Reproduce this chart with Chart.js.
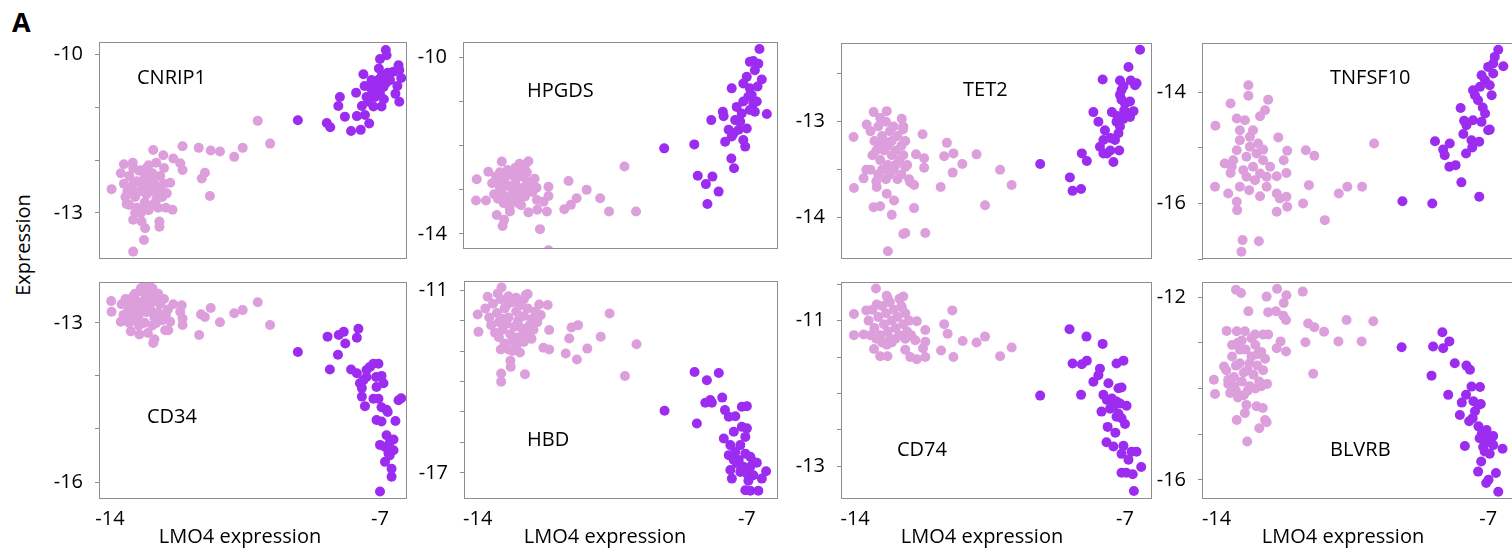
<!DOCTYPE html>
<html>
<head>
<meta charset="utf-8">
<script src="https://cdn.jsdelivr.net/npm/chart.js@4.4.1/dist/chart.umd.min.js"></script>
<style>
  html, body { margin: 0; padding: 0; background: #fff; width: 1512px; height: 548px; overflow: hidden; position: relative; }
  canvas { position: absolute; }
  .panel-letter { position: absolute; left: 12px; top: 3px; font: bold 27px "Open Sans", sans-serif; color: #000; }
  .y-title { position: absolute; left: 22px; top: 245px; font: 20px "Open Sans", sans-serif; color: #000;
             transform: translate(-50%, -50%) rotate(-90deg); white-space: nowrap; }
</style>
</head>
<body>
<div class="panel-letter">A</div>
<div class="y-title">Expression</div>
<script>
// gene names, one per panel (top row then bottom row)
const genes = ['CNRIP1', 'HPGDS', 'TET2', 'TNFSF10', 'CD34', 'HBD', 'CD74', 'BLVRB'];
const xTitle = 'LMO4 expression';
const xTicks = [-14, -7];

// axis ranges and ticks
const xRanges = [[-14.26, -6.30], [-14.33, -6.19], [-14.34, -6.30], [-14.35, -6.36]];
const yRanges = [[-13.87, -9.77], [-14.34, -9.65], [-14.43, -12.18], [-17.0, -13.11],
                 [-16.32, -12.23], [-17.86, -10.70], [-13.45, -10.47], [-16.42, -11.67]];
const yTicks = [[-10, -11, -12, -13], [-10, -11, -12, -13, -14], [-12.5, -13, -13.5, -14], [-14, -15, -16, -17],
                [-13, -14, -15, -16], [-11, -12, -13, -14, -15, -16, -17], [-10.5, -11, -11.5, -12, -12.5, -13], [-12, -13, -14, -15, -16]];
const yLabels = [[-10, -13], [-10, -14], [-13, -14], [-14, -16],
                 [-13, -16], [-11, -17], [-11, -13], [-12, -16]];

// [LMO4, gene] pairs: low-LMO4 cells and high-LMO4 cells
const cnrip1Low = [[-13.96,-12.55],[-13.4,-13.73],[-13.12,-13.51],[-13.4,-13.13],[-13.18,-13.16],[-13.09,-13.29],[-12.72,-13.16],[-12.72,-13.26],
  [-12.38,-12.94],[-12.12,-11.74],[-11.7,-11.77],[-11.39,-11.82],[-11.15,-11.84],[-10.78,-11.94],[-10.56,-11.77],[-10.17,-11.26],[-9.85,-11.69],
  [-11.62,-12.35],[-11.54,-12.24],[-11.41,-12.68],[-12.12,-12.19],[-12.18,-12.06],[-12.44,-12.43],[-12.88,-11.81],[-12.62,-11.91],[-12.36,-11.97],
  [-13.64,-12.08],[-13.41,-12.05],[-13.72,-12.25],[-13.64,-12.45],[-13.57,-12.83],[-12.53,-12.63],
  [-13.5,-12.3],[-13.4,-12.15],[-13.3,-12.4],[-13.2,-12.2],[-13.1,-12.35],[-13.0,-12.1],[-12.9,-12.25],[-12.8,-12.05],[-12.7,-12.3],[-12.6,-12.15],
  [-13.45,-12.55],[-13.35,-12.7],[-13.25,-12.6],[-13.15,-12.5],[-13.05,-12.65],[-12.95,-12.45],[-12.85,-12.6],[-12.75,-12.5],[-12.65,-12.7],
  [-13.5,-12.85],[-13.3,-12.9],[-13.1,-12.8],[-12.9,-12.85],[-12.75,-12.9],[-13.2,-13.0],[-13.0,-12.95],[-12.6,-12.45],[-12.55,-12.9],
  [-13.55,-12.6],[-13.4,-12.45],[-13.0,-12.3],[-12.8,-12.75],[-13.25,-12.2],[-12.95,-12.55],[-13.15,-12.95],[-12.85,-12.35],[-13.6,-12.7],
  [-12.7,-12.6],[-13.35,-13.0],[-13.05,-12.15]];
const cnrip1High = [[-9.13,-11.25],[-8.38,-11.3],[-8.29,-11.38],[-8.04,-10.81],[-8.08,-10.98],[-7.91,-11.18],[-7.75,-11.45],[-7.5,-11.43],
  [-7.62,-10.73],[-7.6,-11.17],[-7.47,-10.98],[-7.28,-11.31],[-7.39,-11.15],[-7.43,-10.38],[-7.03,-10.27],[-7.03,-10.48],[-7.0,-10.09],
  [-6.85,-9.92],[-6.83,-10.02],[-6.96,-10.99],[-7.17,-10.99],[-7.26,-10.62],[-7.13,-10.81],[-6.91,-10.62],[-6.74,-10.49],[-6.65,-10.33],
  [-6.52,-10.21],[-7.35,-10.81],[-7.22,-10.49],[-7.09,-10.68],[-6.5,-10.3],[-6.45,-10.45],[-6.55,-10.6],[-6.6,-10.75],[-6.5,-10.9],
  [-7.1,-10.55],[-6.95,-10.4],[-6.85,-10.55],[-7.2,-10.7],[-7.0,-10.75],[-6.8,-10.35],[-7.3,-10.9],[-6.9,-10.85],[-7.4,-10.6]];

const hpgdsLow = [[-14.0,-12.76],[-14.02,-13.24],[-13.76,-13.24],[-13.7,-12.59],[-13.48,-13.57],[-13.29,-13.68],[-13.33,-13.82],[-13.35,-12.36],
  [-12.89,-12.41],[-12.66,-12.35],[-12.75,-12.44],[-12.14,-12.93],[-12.14,-13.14],[-12.18,-13.49],[-12.36,-13.89],[-12.14,-14.37],[-12.66,-13.51],
  [-12.43,-13.45],[-11.62,-12.8],[-11.73,-13.44],[-11.56,-13.34],[-11.41,-13.19],[-11.15,-13.0],[-10.8,-13.19],[-10.57,-13.49],[-10.17,-12.47],
  [-9.87,-13.49],[-12.44,-13.23],[-12.27,-13.27],[-13.14,-13.49],[-12.92,-13.3],
  [-13.6,-12.85],[-13.5,-12.7],[-13.4,-12.95],[-13.3,-12.75],[-13.2,-12.9],[-13.1,-12.65],[-13.0,-12.85],[-12.9,-12.7],[-12.8,-12.95],[-12.7,-12.8],
  [-12.6,-12.9],[-12.5,-12.75],[-13.55,-13.1],[-13.45,-13.2],[-13.35,-13.05],[-13.25,-13.15],[-13.15,-13.3],[-13.05,-13.1],[-12.95,-13.2],
  [-12.85,-13.05],[-12.75,-13.15],[-12.65,-13.0],[-13.4,-12.6],[-13.2,-12.55],[-13.0,-12.5],[-12.8,-12.6],[-13.3,-13.3],[-13.1,-12.95],
  [-12.9,-13.0],[-12.55,-13.05],[-13.45,-12.85],[-12.7,-12.6],[-13.25,-12.7],[-13.0,-12.75],[-12.45,-12.95],[-13.15,-13.4],[-12.85,-13.35]];
const hpgdsHigh = [[-9.14,-12.06],[-8.36,-11.97],[-8.27,-12.68],[-8.06,-12.87],[-7.89,-12.7],[-7.73,-13.04],[-8.02,-13.32],[-7.92,-11.42],
  [-7.62,-11.23],[-7.6,-11.33],[-7.4,-12.29],[-7.33,-12.51],[-7.39,-10.7],[-7.56,-11.91],[-7.47,-11.64],[-7.3,-11.42],[-7.21,-11.64],
  [-7.09,-11.87],[-7.04,-12.02],[-7.0,-11.61],[-7.13,-11.27],[-7.09,-11.0],[-6.96,-10.89],[-7.09,-10.59],[-7.0,-10.44],[-6.92,-10.7],
  [-6.83,-11.04],[-6.74,-11.0],[-6.72,-10.66],[-6.61,-10.5],[-6.7,-10.14],[-6.92,-10.1],[-6.83,-10.08],[-6.79,-10.29],[-6.67,-9.81],
  [-6.48,-11.28],[-6.87,-10.85],[-6.79,-11.23],[-7.34,-11.72],[-7.17,-11.45],[-7.39,-11.79],[-7.26,-11.12],[-6.92,-11.19]];

const tet2Low = [[-14.04,-13.16],[-14.03,-13.69],[-13.78,-13.59],[-13.71,-13.5],[-13.7,-13.03],[-13.52,-12.9],[-13.35,-12.96],[-13.18,-12.89],
  [-12.79,-12.97],[-12.76,-13.08],[-12.25,-13.13],[-12.42,-13.34],[-12.21,-13.38],[-12.21,-13.48],[-12.47,-13.66],[-12.47,-13.9],[-12.18,-14.16],
  [-12.75,-14.17],[-12.7,-14.16],[-13.15,-14.35],[-13.05,-13.97],[-12.99,-13.82],[-13.18,-13.75],[-13.52,-13.89],[-13.35,-13.88],[-13.44,-13.68],
  [-11.78,-13.68],[-11.62,-13.22],[-11.69,-13.36],[-11.45,-13.33],[-11.47,-13.53],[-11.22,-13.44],[-10.85,-13.34],[-10.24,-13.5],[-9.94,-13.66],
  [-10.63,-13.87],[-12.57,-13.63],[-12.7,-13.47],
  [-13.6,-13.1],[-13.5,-13.2],[-13.4,-13.05],[-13.3,-13.15],[-13.2,-13.0],[-13.1,-13.1],[-13.0,-13.05],[-12.9,-13.15],[-12.8,-13.25],[-12.7,-13.2],
  [-13.55,-13.35],[-13.45,-13.3],[-13.35,-13.4],[-13.25,-13.3],[-13.15,-13.45],[-13.05,-13.35],[-12.95,-13.3],[-12.85,-13.4],[-12.75,-13.35],
  [-12.65,-13.45],[-13.4,-13.55],[-13.3,-13.5],[-13.2,-13.6],[-13.1,-13.55],[-13.0,-13.5],[-12.9,-13.6],[-12.8,-13.55],[-12.6,-13.6],
  [-13.6,-13.5],[-13.45,-13.62],[-13.25,-13.2],[-13.15,-13.25],[-12.95,-13.45],[-13.35,-13.25],[-12.75,-13.05],[-13.05,-13.2]];
const tet2High = [[-9.2,-13.44],[-8.43,-13.58],[-8.36,-13.72],[-8.14,-13.7],[-8.12,-13.33],[-7.99,-13.41],[-7.82,-12.9],[-7.58,-12.56],
  [-7.69,-13.0],[-7.52,-13.09],[-7.65,-13.26],[-7.56,-13.19],[-7.47,-13.33],[-7.34,-12.9],[-7.3,-13.42],[-7.15,-13.3],[-7.13,-12.57],
  [-7.09,-12.67],[-7.04,-12.63],[-6.91,-12.43],[-6.85,-12.57],[-6.74,-12.62],[-7.13,-12.72],[-7.09,-12.77],[-7.0,-12.81],[-6.87,-12.79],
  [-6.78,-12.89],[-6.96,-12.91],[-7.04,-12.97],[-7.22,-13.0],[-7.13,-13.05],[-7.17,-13.12],[-7.26,-13.19],[-7.38,-13.17],[-6.61,-12.25],
  [-6.7,-12.6],[-7.02,-12.88],[-7.38,-13.3],[-7.56,-13.33],[-6.87,-12.95],[-7.2,-12.94]];

const tnfsf10Low = [[-14.03,-14.6],[-14.04,-15.7],[-13.7,-15.82],[-13.48,-15.97],[-13.47,-16.12],[-13.33,-16.66],[-13.36,-16.87],[-12.91,-16.68],
  [-13.64,-14.2],[-13.18,-13.87],[-13.18,-14.06],[-12.67,-14.13],[-12.75,-14.32],[-13.79,-15.28],[-13.64,-15.45],[-13.4,-15.7],[-13.16,-15.76],
  [-12.88,-15.87],[-12.71,-15.7],[-12.45,-15.82],[-12.37,-15.91],[-12.2,-15.88],[-12.18,-16.06],[-12.45,-16.15],[-12.45,-15.51],[-12.2,-15.45],
  [-12.27,-15.22],[-12.18,-15.05],[-12.41,-14.81],[-12.8,-15.03],[-11.7,-15.04],[-11.48,-15.14],[-11.62,-15.67],[-11.77,-16.0],[-11.21,-16.3],
  [-10.85,-15.82],[-10.63,-15.7],[-10.25,-15.7],[-9.94,-14.92],[-13.48,-14.47],[-13.27,-14.5],[-12.88,-14.43],[-13.4,-14.68],[-13.14,-14.8],
  [-13.48,-15.04],[-13.23,-15.16],[-12.97,-15.1],[-13.06,-15.34],[-12.88,-15.46],[-13.31,-15.4],[-13.57,-15.22],[-12.62,-15.34],[-13.01,-15.58],
  [-12.71,-15.52],[-13.23,-15.52],[-13.06,-14.68],[-12.8,-15.22],[-13.4,-14.86],[-13.61,-15.34],[-12.93,-14.92],[-13.14,-14.98]];
const tnfsf10High = [[-9.21,-15.96],[-8.44,-16.0],[-8.37,-14.88],[-8.16,-15.03],[-8.12,-15.13],[-7.99,-14.92],[-8.0,-15.34],[-7.84,-15.31],
  [-7.69,-15.62],[-7.23,-15.88],[-7.71,-14.28],[-7.62,-14.51],[-7.57,-15.1],[-7.64,-14.75],[-7.43,-14.86],[-7.41,-14.99],[-7.23,-14.89],
  [-7.56,-14.59],[-7.39,-14.5],[-7.17,-14.53],[-7.0,-14.68],[-6.96,-14.67],[-7.14,-14.27],[-7.39,-13.96],[-7.34,-14.05],[-7.21,-13.9],
  [-7.08,-13.78],[-6.91,-14.05],[-6.96,-13.87],[-6.87,-13.66],[-7.0,-13.54],[-6.83,-13.36],[-6.74,-13.23],[-6.61,-13.53],[-7.17,-13.69],
  [-7.26,-14.14],[-7.08,-14.38],[-6.87,-13.48]];

const cd34Low = [[-13.97,-12.59],[-13.96,-12.79],[-13.72,-12.98],[-13.46,-13.16],[-13.24,-13.22],[-13.02,-13.19],[-12.88,-13.38],[-12.85,-13.31],
  [-12.57,-13.14],[-12.49,-13.14],[-12.44,-12.98],[-12.12,-13.04],[-12.12,-12.92],[-12.14,-12.67],[-12.36,-12.65],[-12.18,-12.79],[-11.69,-13.23],
  [-11.64,-12.84],[-11.54,-12.89],[-11.39,-12.72],[-11.15,-12.99],[-10.78,-12.82],[-10.56,-12.76],[-10.17,-12.61],[-9.85,-13.04],
  [-13.7,-12.65],[-13.6,-12.55],[-13.5,-12.7],[-13.4,-12.5],[-13.3,-12.6],[-13.2,-12.4],[-13.1,-12.55],[-13.0,-12.45],[-12.9,-12.6],[-12.8,-12.5],
  [-12.7,-12.65],[-12.6,-12.55],[-13.65,-12.85],[-13.55,-12.8],[-13.45,-12.9],[-13.35,-12.75],[-13.25,-12.85],[-13.15,-12.7],[-13.05,-12.8],
  [-12.95,-12.75],[-12.85,-12.9],[-12.75,-12.8],[-12.65,-12.95],[-12.5,-12.75],[-13.3,-12.95],[-13.1,-13.0],[-12.9,-13.05],[-13.5,-13.0],
  [-13.2,-12.35],[-13.0,-12.3],[-13.1,-12.3],[-12.9,-12.35],[-13.35,-12.45],[-13.05,-12.6],[-12.75,-12.45],[-13.6,-12.95],[-12.55,-12.85],
  [-13.25,-13.05],[-12.8,-13.0],[-13.4,-12.65]];
const cd34High = [[-9.13,-13.55],[-8.36,-13.26],[-8.3,-13.88],[-8.07,-13.23],[-7.94,-13.17],[-8.09,-13.6],[-7.9,-13.39],[-7.6,-13.28],
  [-7.56,-13.11],[-7.75,-13.88],[-7.6,-13.95],[-7.52,-14.14],[-7.47,-14.39],[-7.39,-14.57],[-7.47,-14.23],[-7.35,-13.89],[-7.26,-13.83],
  [-7.17,-13.77],[-7.04,-13.77],[-7.1,-14.02],[-6.96,-14.0],[-7.09,-14.21],[-7.17,-14.43],[-7.04,-14.43],[-6.96,-14.59],[-6.83,-14.64],
  [-6.8,-14.68],[-7.09,-14.83],[-6.96,-14.86],[-6.83,-15.12],[-7.0,-15.3],[-6.74,-15.24],[-6.65,-15.4],[-6.78,-15.46],[-6.87,-15.62],
  [-6.7,-15.9],[-7.0,-16.18],[-6.52,-14.46],[-7.35,-14.02],[-7.43,-14.08],[-6.91,-14.14],[-6.87,-15.34],[-6.45,-14.42],[-6.6,-14.85],
  [-6.65,-15.2],[-6.75,-15.5],[-6.7,-15.75]];

const hbdLow = [[-14.0,-11.8],[-13.98,-12.37],[-13.74,-11.22],[-13.48,-11.11],[-13.38,-10.91],[-13.39,-13.74],[-13.39,-14.01],[-13.14,-13.52],
  [-13.15,-13.32],[-12.77,-13.76],[-12.75,-11.16],[-12.7,-11.13],[-12.4,-11.47],[-12.18,-11.49],[-12.36,-11.82],[-12.14,-12.31],[-12.14,-12.95],
  [-12.29,-12.89],[-11.71,-13.08],[-11.62,-12.59],[-11.56,-12.23],[-11.39,-12.15],[-11.42,-13.28],[-11.15,-12.92],[-10.8,-12.53],[-10.57,-11.77],
  [-10.17,-13.82],[-9.87,-12.78],
  [-13.8,-11.6],[-13.7,-11.9],[-13.6,-11.45],[-13.5,-11.75],[-13.4,-11.3],[-13.3,-11.6],[-13.2,-11.9],[-13.1,-11.4],[-13.0,-11.7],[-12.9,-11.5],
  [-12.8,-11.85],[-12.7,-11.6],[-12.6,-11.95],[-12.5,-11.7],[-13.65,-12.15],[-13.55,-12.4],[-13.45,-12.05],[-13.35,-12.3],[-13.25,-12.1],
  [-13.15,-12.45],[-13.05,-12.2],[-12.95,-12.55],[-12.85,-12.25],[-12.75,-12.4],[-12.65,-12.15],[-12.55,-12.3],[-13.3,-12.75],[-13.2,-12.95],
  [-13.1,-12.65],[-13.0,-12.85],[-12.9,-13.05],[-12.8,-12.7],[-13.4,-12.95],[-13.0,-11.25],[-13.2,-11.2],[-12.8,-11.3],[-13.35,-11.95],
  [-12.95,-12.0],[-13.45,-12.55],[-12.6,-12.6],[-13.1,-13.0],[-13.25,-11.5],[-12.45,-12.05]];
const hbdHigh = [[-9.14,-14.96],[-8.36,-13.69],[-8.3,-15.38],[-8.04,-13.96],[-7.73,-13.72],[-8.08,-14.7],[-7.91,-14.7],[-7.95,-14.61],
  [-7.64,-14.53],[-7.57,-14.94],[-7.47,-15.16],[-7.3,-15.14],[-7.13,-14.83],[-7.0,-14.81],[-7.34,-15.65],[-7.13,-15.49],[-7.0,-15.54],
  [-7.04,-15.82],[-7.6,-15.87],[-7.43,-16.09],[-7.47,-16.42],[-7.3,-16.31],[-7.21,-16.58],[-7.04,-16.37],[-6.91,-16.47],[-6.83,-16.64],
  [-6.74,-16.67],[-7.43,-16.91],[-7.39,-17.19],[-7.17,-16.97],[-7.0,-17.02],[-6.83,-17.08],[-6.61,-17.19],[-6.5,-16.95],[-6.96,-17.26],
  [-7.04,-17.57],[-6.91,-17.59],[-6.7,-17.59],[-7.26,-16.69],[-7.09,-16.8],[-6.91,-16.8],[-7.34,-16.58],[-7.17,-16.09]];

const cd74Low = [[-14.03,-10.91],[-14.03,-11.2],[-13.78,-11.19],[-13.71,-10.86],[-13.46,-10.56],[-13.44,-10.78],[-13.18,-10.66],[-12.75,-10.67],
  [-12.79,-10.82],[-13.51,-11.39],[-13.35,-11.49],[-13.16,-11.49],[-13.18,-11.33],[-12.7,-11.4],[-12.57,-11.5],[-12.4,-11.53],[-12.18,-11.5],
  [-12.24,-11.38],[-12.44,-11.27],[-12.4,-11.01],[-12.18,-11.13],[-12.18,-11.29],[-11.69,-11.05],[-11.6,-11.18],[-11.48,-10.86],[-11.77,-11.41],
  [-11.45,-11.5],[-11.21,-11.28],[-10.85,-11.3],[-10.63,-11.22],[-10.24,-11.49],[-9.94,-11.37],
  [-13.65,-11.0],[-13.55,-10.85],[-13.5,-11.1],[-13.4,-10.95],[-13.35,-11.2],[-13.3,-10.8],[-13.25,-11.05],[-13.2,-10.9],[-13.15,-11.15],
  [-13.1,-10.75],[-13.05,-11.0],[-13.0,-10.85],[-12.95,-11.1],[-12.9,-10.95],[-12.85,-11.2],[-12.8,-10.8],[-12.75,-11.05],[-12.7,-10.9],
  [-12.65,-11.15],[-12.6,-11.0],[-13.45,-11.25],[-13.3,-11.3],[-13.1,-11.25],[-12.95,-11.25],[-12.55,-11.2],[-13.6,-11.2],[-12.85,-10.7],
  [-13.15,-10.7],[-12.7,-11.25],[-13.05,-11.3]];
const cd74High = [[-9.2,-12.03],[-8.44,-11.12],[-8.36,-11.59],[-8.14,-12.02],[-8.12,-11.6],[-7.99,-11.55],[-8.0,-11.22],[-7.58,-11.32],
  [-7.65,-11.66],[-7.69,-11.75],[-7.82,-11.84],[-7.43,-11.86],[-7.22,-11.59],[-7.04,-11.55],[-7.17,-11.93],[-7.09,-11.92],[-7.56,-12.02],
  [-7.47,-12.09],[-7.34,-12.07],[-7.22,-12.11],[-7.13,-12.14],[-6.96,-12.17],[-7.61,-12.25],[-7.39,-12.21],[-7.22,-12.32],[-7.09,-12.34],
  [-7.0,-12.42],[-7.45,-12.46],[-7.25,-12.54],[-7.48,-12.67],[-7.3,-12.73],[-7.04,-12.72],[-7.09,-12.83],[-6.91,-12.91],[-6.83,-12.8],
  [-6.7,-12.8],[-6.58,-13.01],[-7.09,-13.09],[-6.97,-13.09],[-6.8,-13.11],[-6.77,-13.34],[-7.17,-12.28],[-7.3,-12.18]];

const blvrbLow = [[-13.5,-11.84],[-13.37,-11.91],[-12.71,-11.99],[-12.44,-11.82],[-12.2,-11.96],[-12.27,-12.13],[-11.78,-11.88],[-13.18,-12.31],
  [-12.67,-12.33],[-12.47,-12.31],[-12.28,-12.41],[-12.21,-12.5],[-11.64,-12.58],[-11.48,-12.66],[-11.23,-12.76],[-10.65,-12.5],[-9.96,-12.53],
  [-10.86,-12.97],[-10.26,-12.97],[-11.71,-12.99],[-11.51,-13.68],[-12.21,-13.19],[-12.35,-12.97],[-12.45,-13.12],[-12.67,-12.82],[-13.74,-12.74],
  [-13.81,-13.52],[-14.07,-13.81],[-14.04,-14.12],[-13.7,-13.81],[-13.48,-14.69],[-13.23,-14.36],[-13.27,-14.54],[-12.97,-14.39],[-12.81,-14.43],
  [-12.75,-14.69],[-12.71,-14.74],[-12.9,-14.87],[-13.21,-15.16],[-13.48,-12.75],[-13.27,-12.75],[-13.01,-12.82],[-12.8,-12.82],
  [-13.75,-13.6],[-13.7,-13.9],[-13.6,-13.3],[-13.55,-13.75],[-13.5,-14.05],[-13.45,-13.0],[-13.4,-13.45],[-13.35,-13.85],[-13.3,-14.15],
  [-13.25,-13.15],[-13.2,-13.6],[-13.15,-13.95],[-13.1,-13.3],[-13.05,-13.7],[-13.0,-13.05],[-12.95,-13.5],[-12.9,-13.85],[-12.85,-13.2],
  [-12.8,-13.6],[-12.75,-13.35],[-13.6,-13.05],[-13.4,-13.15],[-13.3,-13.65],[-13.15,-13.45],[-12.95,-13.25],[-13.5,-13.5],[-13.45,-14.2],
  [-13.2,-14.05],[-13.0,-14.0],[-12.7,-13.9],[-13.65,-14.1],[-13.35,-12.95],[-13.1,-12.9],[-12.85,-13.95],[-13.55,-13.95]];
const blvrbHigh = [[-9.23,-13.1],[-8.42,-13.08],[-8.16,-13.12],[-8.18,-12.77],[-8.0,-12.97],[-8.46,-13.72],[-7.86,-13.45],[-8.03,-14.14],
  [-7.56,-13.5],[-7.47,-13.59],[-7.43,-13.96],[-7.21,-13.97],[-7.73,-14.58],[-7.68,-14.31],[-7.57,-14.14],[-7.49,-14.72],[-7.6,-15.26],
  [-7.38,-14.28],[-7.25,-14.36],[-7.19,-14.34],[-7.34,-14.5],[-7.4,-14.65],[-7.25,-14.83],[-7.16,-14.98],[-7.22,-15.09],[-7.07,-15.09],
  [-6.99,-15.16],[-6.87,-15.04],[-6.91,-15.2],[-7.13,-15.28],[-7.09,-15.38],[-6.96,-15.43],[-6.63,-15.32],[-7.18,-15.6],[-7.26,-15.82],
  [-6.99,-16.0],[-7.05,-16.07],[-6.8,-15.85],[-6.74,-16.26],[-6.87,-15.24],[-7.04,-14.91]];

const lowSets = [cnrip1Low, hpgdsLow, tet2Low, tnfsf10Low, cd34Low, hbdLow, cd74Low, blvrbLow];
const highSets = [cnrip1High, hpgdsHigh, tet2High, tnfsf10High, cd34High, hbdHigh, cd74High, blvrbHigh];

// plot boxes on the page, gene label offset inside each box
const boxes = [
  { l: 100, t: 42, r: 407, b: 259, gx: 37, gy: 36 },
  { l: 464, t: 42, r: 778, b: 249, gx: 63, gy: 49 },
  { l: 842, t: 43, r: 1152, b: 259, gx: 121, gy: 47 },
  { l: 1203, t: 43, r: 1513, b: 259, gx: 127, gy: 35 },
  { l: 100, t: 282, r: 407, b: 499, gx: 47, gy: 135 },
  { l: 465, t: 281, r: 778, b: 499, gx: 62, gy: 159 },
  { l: 842, t: 282, r: 1152, b: 499, gx: 55, gy: 168 },
  { l: 1203, t: 282, r: 1513, b: 499, gx: 127, gy: 168 }
];

const AXIS_W = 70, AXIS_H = 50, PAD = 20;
const lightColor = '#dc9fdc';
const darkColor = '#9b2cf0';
const frameColor = '#8e8e8e';
const font = '"Open Sans", sans-serif';

const framePlugin = {
  id: 'frame',
  afterDraw(chart, args, opts) {
    const { ctx, chartArea: a } = chart;
    ctx.save();
    ctx.strokeStyle = frameColor;
    ctx.lineWidth = 1;
    const l = Math.round(a.left) - 0.5, t = Math.round(a.top) + 0.5;
    ctx.strokeRect(l, t, Math.round(a.right - a.left), Math.round(a.bottom - a.top) - 1);
    ctx.fillStyle = '#000';
    ctx.font = '20px ' + font;
    ctx.textBaseline = 'middle';
    ctx.textAlign = 'left';
    ctx.fillText(opts.gene, a.left + opts.gx, a.top + opts.gy);
    if (opts.bottomRow) {
      ctx.textAlign = 'center';
      ctx.fillText(xTitle, a.left + 140, a.bottom + 38);
    }
    ctx.restore();
  }
};

boxes.forEach((box, i) => {
  const col = i % 4;
  const bottomRow = i >= 4;
  const canvas = document.createElement('canvas');
  const w = box.r - box.l + AXIS_W + PAD;
  const h = box.b - box.t + PAD + AXIS_H;
  canvas.width = w;
  canvas.height = h;
  canvas.style.left = (box.l - AXIS_W) + 'px';
  canvas.style.top = (box.t - PAD) + 'px';
  canvas.style.width = w + 'px';
  canvas.style.height = h + 'px';
  document.body.appendChild(canvas);

  new Chart(canvas, {
    type: 'scatter',
    data: {
      datasets: [
        { data: highSets[i].map(p => ({ x: p[0], y: p[1] })), backgroundColor: darkColor },
        { data: lowSets[i].map(p => ({ x: p[0], y: p[1] })), backgroundColor: lightColor }
      ]
    },
    options: {
      responsive: false,
      animation: false,
      devicePixelRatio: 1,
      layout: { padding: { left: 0, top: PAD, right: PAD, bottom: 0 } },
      elements: { point: { radius: 5, borderWidth: 0, hoverRadius: 5 } },
      plugins: {
        legend: { display: false },
        tooltip: { enabled: false },
        frame: { gene: genes[i], gx: box.gx, gy: box.gy, bottomRow: bottomRow }
      },
      scales: {
        x: {
          type: 'linear',
          min: xRanges[col][0],
          max: xRanges[col][1],
          afterBuildTicks: s => { s.ticks = xTicks.map(v => ({ value: v })); },
          afterFit: s => { s.height = AXIS_H; s.paddingLeft = 0; s.paddingRight = 0; },
          grid: { display: false, drawTicks: false },
          border: { display: false },
          ticks: {
            display: bottomRow,
            padding: 8,
            color: '#000',
            font: { family: font, size: 20 },
            maxRotation: 0,
            callback: v => String(v)
          }
        },
        y: {
          type: 'linear',
          min: yRanges[i][0],
          max: yRanges[i][1],
          afterBuildTicks: s => { s.ticks = yTicks[i].map(v => ({ value: v })); },
          afterFit: s => { s.width = AXIS_W; s.paddingTop = 0; s.paddingBottom = 0; },
          grid: { display: true, drawOnChartArea: false, drawTicks: true, tickLength: 5, color: frameColor },
          border: { display: false },
          ticks: {
            padding: 12,
            color: '#000',
            font: { family: font, size: 20 },
            callback: v => yLabels[i].includes(v) ? String(v) : ''
          }
        }
      }
    },
    plugins: [framePlugin]
  });
});
</script>
</body>
</html>
